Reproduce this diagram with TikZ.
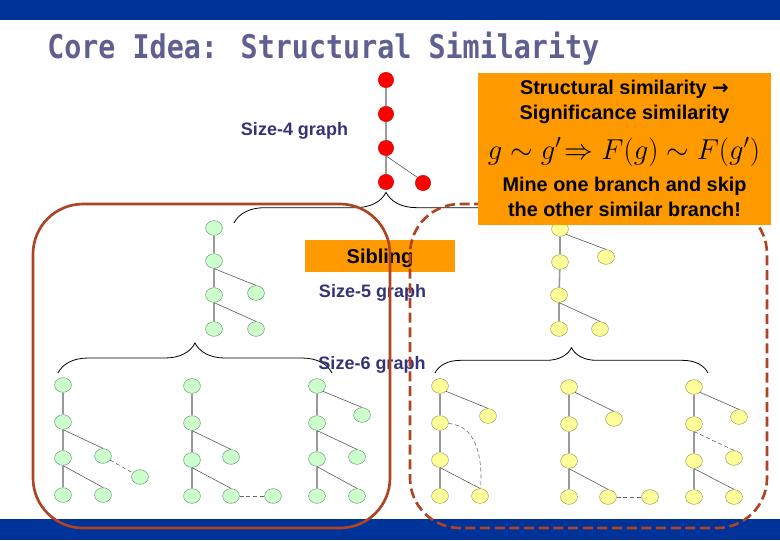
\documentclass[tikz,border=0pt]{standalone}
\usepackage{fontspec}
\usepackage{graphicx}
\setmainfont{Liberation Sans}
\newfontfamily\titlefont{DejaVu Sans Mono}
\newfontfamily\arrowfont{DejaVu Sans}
\usetikzlibrary{decorations.pathreplacing,shapes.geometric}

\definecolor{barblue}{HTML}{003399}
\definecolor{titleblue}{HTML}{5F5F91}
\definecolor{labelblue}{HTML}{333377}
\definecolor{notebox}{HTML}{FF9900}
\definecolor{groupred}{HTML}{AD4422}
\definecolor{greenfill}{HTML}{CCFFCC}
\definecolor{yellowfill}{HTML}{FFFF99}
\definecolor{greenrim}{HTML}{6F9F7F}
\definecolor{yellowrim}{HTML}{A0A060}

\tikzstyle{bar} = [fill=barblue, draw=none]
\tikzstyle{redv} = [circle, minimum size=11.5pt, inner sep=0pt, fill=red, draw=red!75!black, line width=0.3pt]
\tikzstyle{greenv} = [ellipse, minimum width=12.6pt, minimum height=11pt, inner sep=0pt, fill=greenfill, draw=greenrim, line width=0.4pt]
\tikzstyle{yellowv} = [ellipse, minimum width=12.6pt, minimum height=11pt, inner sep=0pt, fill=yellowfill, draw=yellowrim, line width=0.4pt]
\tikzstyle{trunk} = [gray!80, line width=1.2pt]
\tikzstyle{branch} = [black!65, line width=0.45pt]
\tikzstyle{faint} = [black!60, line width=0.45pt, densely dashed]
\tikzstyle{curly} = [black, line width=0.6pt, decorate]
\tikzstyle{sizelabel} = [font=\bfseries\fontsize{13.5}{15}\selectfont, text=labelblue, inner sep=0pt]
\tikzstyle{notetext} = [font=\bfseries\fontsize{14.9}{18.5}\selectfont, align=center, inner sep=0pt]
\tikzstyle{groupline} = [groupred, line width=2pt, rounded corners=37.5pt]

\begin{document}
\begin{tikzpicture}[x=0.75pt, y=-0.75pt]

\useasboundingbox (0,0) rectangle (780,540);

\fill[bar] (0,0) rectangle (780,20);
\fill[bar] (0,519) rectangle (780,540);

\node (title) [anchor=base west, inner sep=0pt, text=titleblue, font=\titlefont\bfseries\fontsize{21.27}{24}\selectfont] at (47,58) {\scalebox{1}[1.15]{Core Idea: Structural Similarity}};

% size-4 graph
\node (r1) [redv] at (386,80) {};
\node (r2) [redv] at (386,114) {};
\node (r3) [redv] at (386,148) {};
\node (r4) [redv] at (386,182) {};
\node (r5) [redv] at (423,183) {};
\draw[trunk] (r1) -- (r2);
\draw[trunk] (r2) -- (r3);
\draw[trunk] (r3) -- (r4);
\draw[branch] (r3.south) -- (r5.north west);

% size-5 graphs
\node (a1) [greenv] at (214,228) {};
\node (a2) [greenv] at (214,261) {};
\node (a3) [greenv] at (214,295) {};
\node (a4) [greenv] at (214,329) {};
\node (a5) [greenv] at (256,293) {};
\node (a6) [greenv] at (256,329) {};
\draw[trunk] (a1) -- (a2);
\draw[trunk] (a2) -- (a3);
\draw[trunk] (a3) -- (a4);
\draw[branch] (a2.south) -- (a5.north);
\draw[branch] (a3.south) -- (a6.north);

\node (b1) [yellowv] at (560,229) {};
\node (b2) [yellowv] at (560,262) {};
\node (b3) [yellowv] at (559,295) {};
\node (b4) [yellowv] at (559,329) {};
\node (b5) [yellowv] at (606,257) {};
\node (b6) [yellowv] at (600,329) {};
\draw[trunk] (b1) -- (b2);
\draw[trunk] (b2) -- (b3);
\draw[trunk] (b3) -- (b4);
\draw[branch] (b1.south east) -- (b5.north);
\draw[branch] (b3.south) -- (b6.north);

% size-6 graphs, left
\node (c1) [greenv] at (63,385) {};
\node (c2) [greenv] at (63,422) {};
\node (c3) [greenv] at (63,458) {};
\node (c4) [greenv] at (63,495) {};
\node (c5) [greenv] at (103,456) {};
\node (c6) [greenv] at (140,477) {};
\node (c7) [greenv] at (103,495) {};
\draw[trunk] (c1) -- (c2);
\draw[trunk] (c2) -- (c3);
\draw[trunk] (c3) -- (c4);
\draw[branch] (c2.south) -- (c5.north);
\draw[faint] (c5) -- (c6);
\draw[branch] (c3.south) -- (c7.north);

\node (d1) [greenv] at (192,386) {};
\node (d2) [greenv] at (192,423) {};
\node (d3) [greenv] at (192,460) {};
\node (d4) [greenv] at (192,496) {};
\node (d5) [greenv] at (231,457) {};
\node (d6) [greenv] at (231,496) {};
\node (d7) [greenv] at (273,496) {};
\draw[trunk] (d1) -- (d2);
\draw[trunk] (d2) -- (d3);
\draw[trunk] (d3) -- (d4);
\draw[branch] (d2.south) -- (d5.north);
\draw[branch] (d3.south) -- (d6.north);
\draw[faint] (d6) -- (d7);

\node (e1) [greenv] at (317,386) {};
\node (e2) [greenv] at (317,423) {};
\node (e3) [greenv] at (317,459) {};
\node (e4) [greenv] at (317,496) {};
\node (e5) [greenv] at (362,415) {};
\node (e6) [greenv] at (357,457) {};
\node (e7) [greenv] at (357,496) {};
\draw[trunk] (e1) -- (e2);
\draw[trunk] (e2) -- (e3);
\draw[trunk] (e3) -- (e4);
\draw[branch] (e1.south east) -- (e5.north);
\draw[branch] (e2.south) -- (e6.north);
\draw[branch] (e3.south) -- (e7.north);

% size-6 graphs, right
\node (f1) [yellowv] at (440,386) {};
\node (f2) [yellowv] at (440,423) {};
\node (f3) [yellowv] at (440,460) {};
\node (f4) [yellowv] at (440,496) {};
\node (f5) [yellowv] at (488,416) {};
\node (f6) [yellowv] at (480,496) {};
\draw[trunk] (f1) -- (f2);
\draw[trunk] (f2) -- (f3);
\draw[trunk] (f3) -- (f4);
\draw[branch] (f1.south east) -- (f5.north);
\draw[branch] (f3.south) -- (f6.north);
\draw[faint] (f2) .. controls (475,425) and (483,455) .. (f6);

\node (h1) [yellowv] at (569,387) {};
\node (h2) [yellowv] at (569,424) {};
\node (h3) [yellowv] at (569,461) {};
\node (h4) [yellowv] at (569,497) {};
\node (h5) [yellowv] at (614,419) {};
\node (h6) [yellowv] at (608,497) {};
\node (h7) [yellowv] at (650,497) {};
\draw[trunk] (h1) -- (h2);
\draw[trunk] (h2) -- (h3);
\draw[trunk] (h3) -- (h4);
\draw[branch] (h1.south east) -- (h5.north);
\draw[branch] (h3.south) -- (h6.north);
\draw[faint] (h6) -- (h7);

\node (k1) [yellowv] at (694,387) {};
\node (k2) [yellowv] at (694,424) {};
\node (k3) [yellowv] at (694,461) {};
\node (k4) [yellowv] at (694,497) {};
\node (k5) [yellowv] at (739,417) {};
\node (k6) [yellowv] at (734,458) {};
\node (k7) [yellowv] at (734,497) {};
\draw[trunk] (k1) -- (k2);
\draw[trunk] (k2) -- (k3);
\draw[trunk] (k3) -- (k4);
\draw[branch] (k1.south east) -- (k5.north);
\draw[faint] (k2.south) -- (k6.north);
\draw[branch] (k3.south) -- (k7.north);

% braces
\coordinate (top-l) at (234,223);
\coordinate (top-r) at (538,223);
\coordinate (left-l) at (58,373);
\coordinate (left-r) at (332,373);
\coordinate (right-l) at (435,373);
\coordinate (right-r) at (708,373);
\draw[curly, decoration={brace, amplitude=23pt}] (top-l) -- (top-r);
\draw[curly, decoration={brace, amplitude=22.5pt}] (left-l) -- (left-r);
\draw[curly, decoration={brace, amplitude=19pt}] (right-l) -- (right-r);

\node (size4) [sizelabel] at (294.5,131) {Size-4 graph};

\node (sibling) [minimum width=112.5pt, minimum height=24pt, inner sep=0pt, fill=notebox, font=\bfseries\fontsize{15}{18}\selectfont] at (380,256) {\smash{\raisebox{-5.25pt}{Sibling}}};
\node (size5) [sizelabel] at (372.5,293) {Size-5 graph};
\node (size6) [sizelabel] at (372,365) {Size-6 graph};

% similar branches
\draw[groupline] (33,204) rectangle (390,528);
\draw[groupline, dash pattern=on 7.5pt off 3.5pt] (410,204) rectangle (767,528);

% note
\node (note) [minimum width=219.75pt, minimum height=114pt, inner sep=0pt, fill=notebox] at (624.5,149) {};
\node (notetop) [notetext] at (624.5,102) {Structural similarity {\arrowfont\bfseries →}\\Significance similarity};
\node (noteeq) [inner sep=0pt, font=\fontsize{20.74}{26}\selectfont] at (624,152) {\scalebox{1.04}{$g\sim g'\!\Rightarrow F(g)\sim F(g')$}};
\node (notebot) [notetext] at (624.5,197) {Mine one branch and skip\\the other similar branch!};

\end{tikzpicture}
\end{document}
